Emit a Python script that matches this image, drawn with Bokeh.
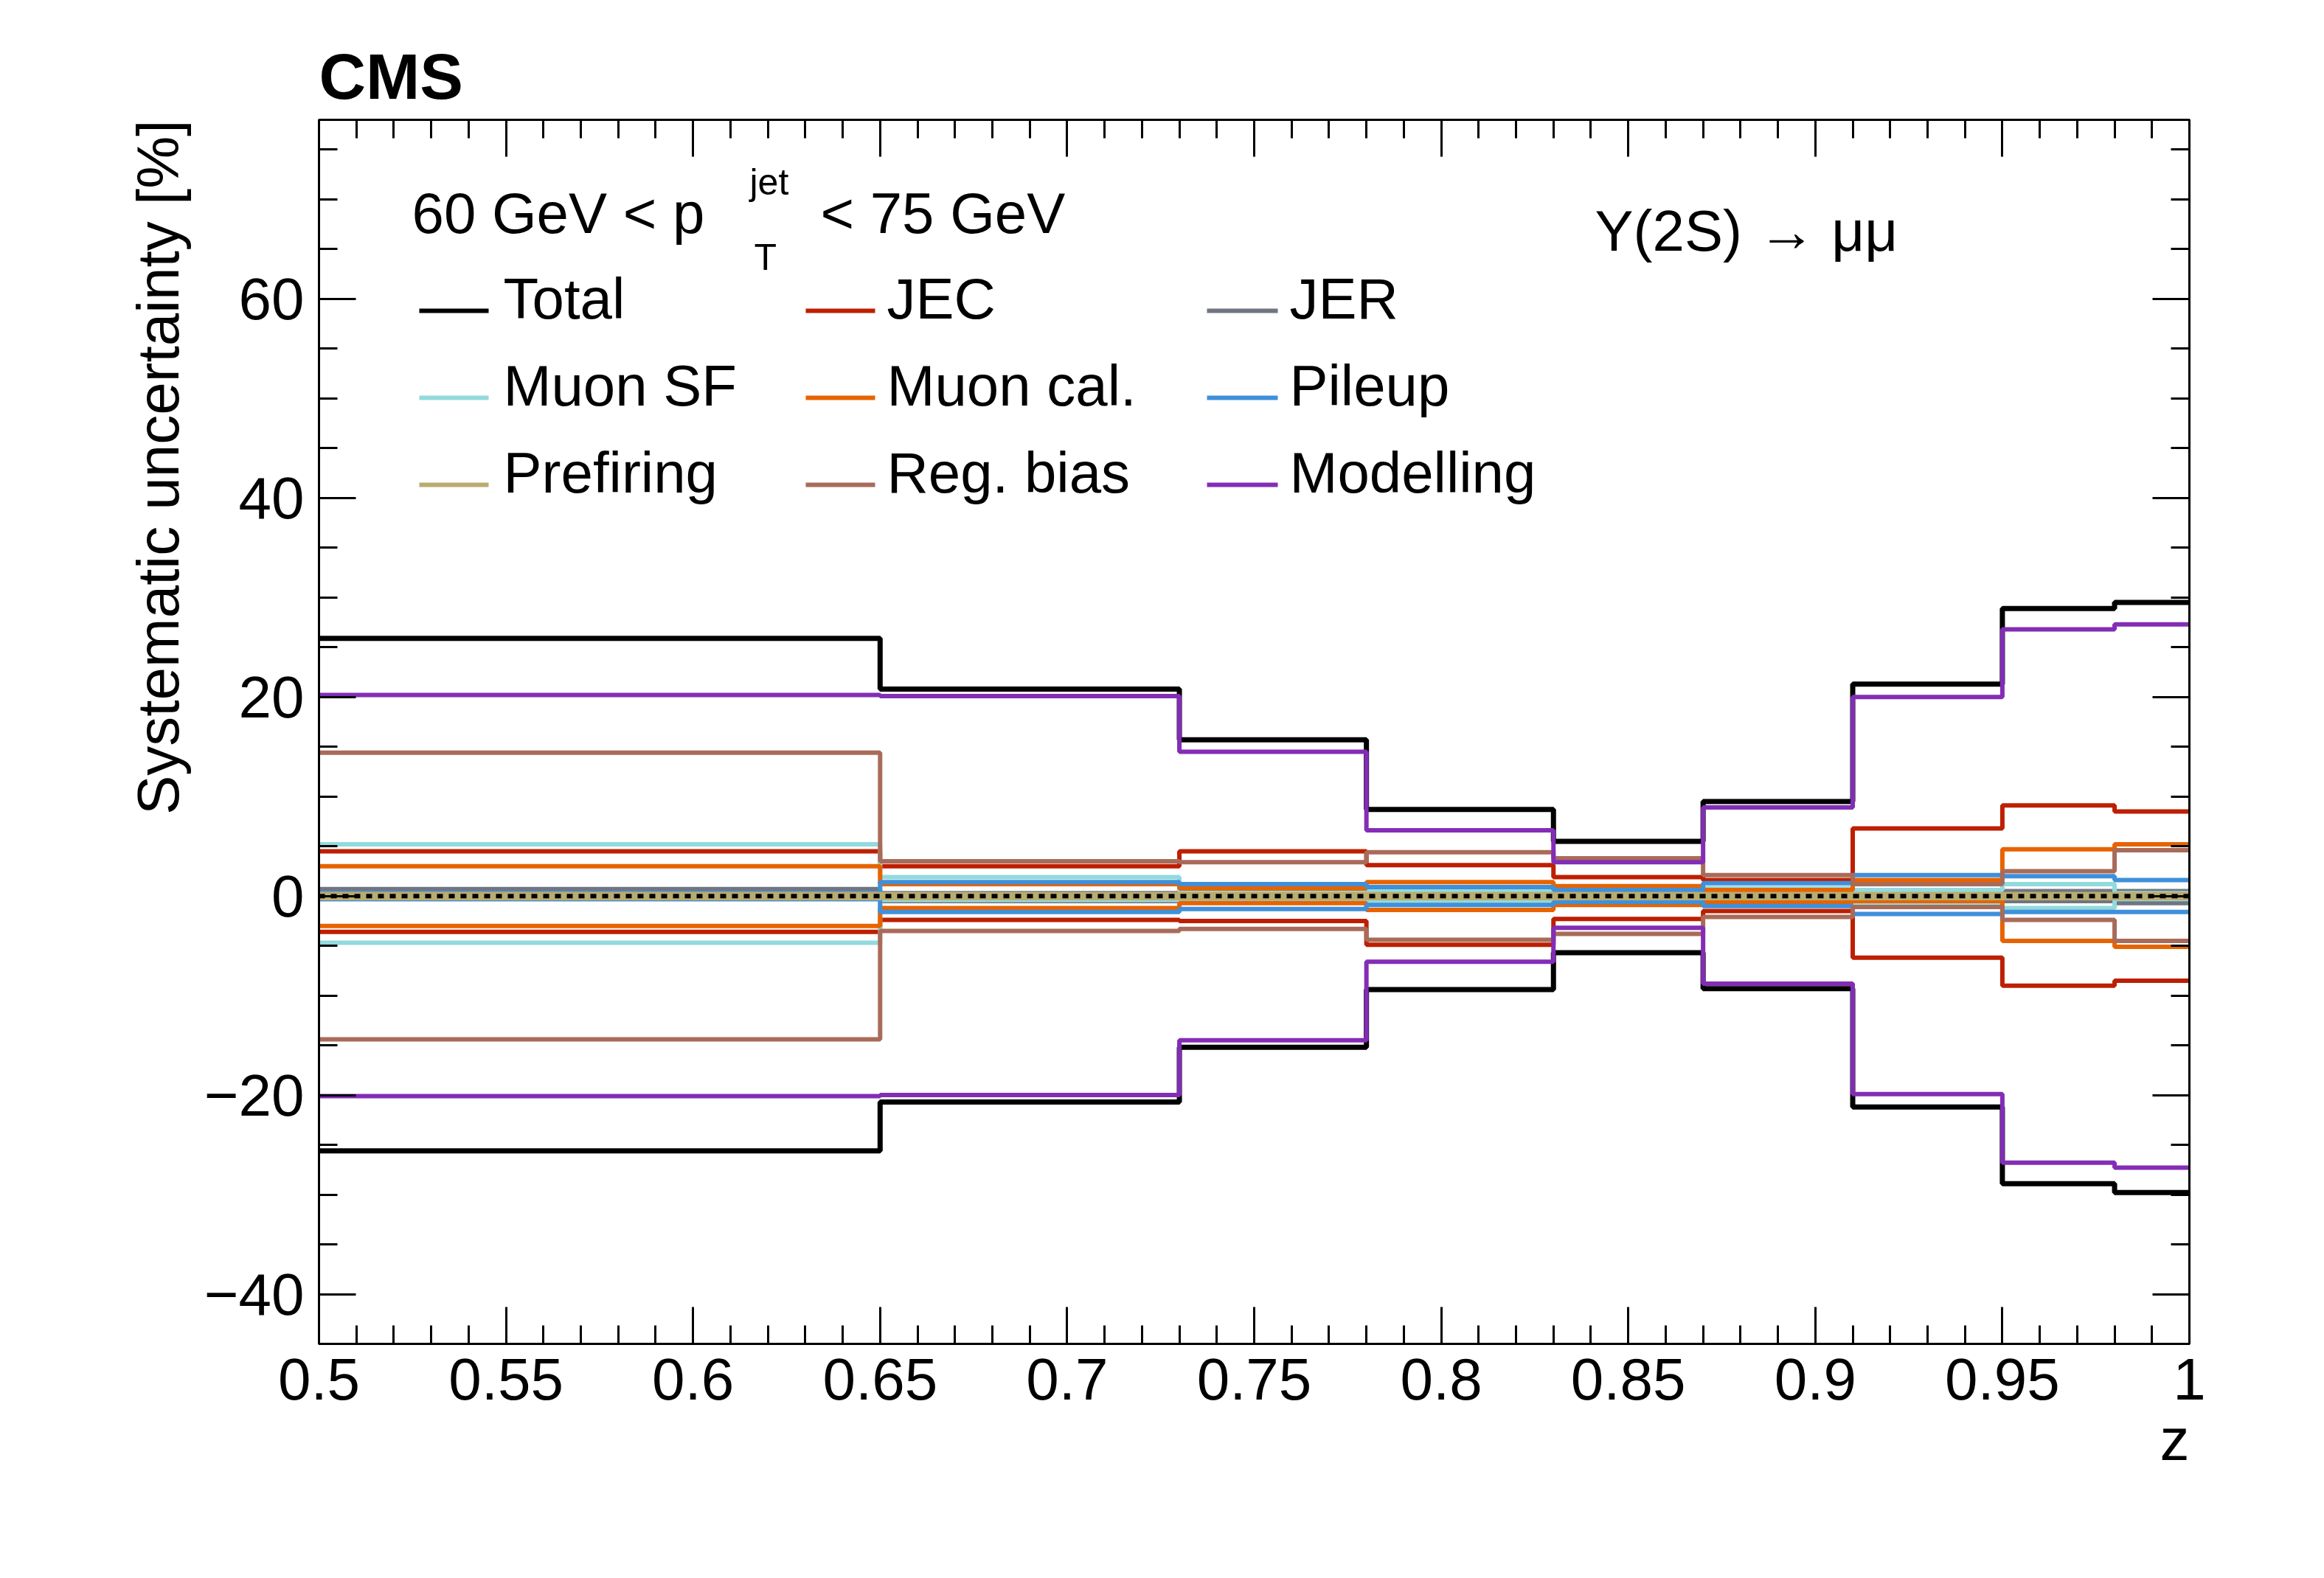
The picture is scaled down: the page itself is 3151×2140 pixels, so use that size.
import numpy as np
from bokeh.plotting import figure
from bokeh.models import Label, BoxAnnotation, LinearAxis, Span, FixedTicker, Title
from bokeh.embed import file_html
from bokeh.resources import INLINE

edges = [0.5, 0.65, 0.73, 0.78, 0.83, 0.87, 0.91, 0.95, 0.98, 1.0]
total_up = [25.9, 20.8, 15.7, 8.7, 5.5, 9.5, 21.3, 28.9, 29.5]
total_dn = [-25.6, -20.7, -15.2, -9.4, -5.7, -9.3, -21.2, -28.9, -29.8]
model_up = [20.2, 20.1, 14.5, 6.6, 3.4, 8.9, 20.0, 26.8, 27.3]
model_dn = [-20.1, -20.0, -14.5, -6.6, -3.2, -8.8, -19.9, -26.8, -27.3]
regb_up = [14.4, 3.5, 3.4, 4.4, 3.8, 2.1, 1.2, 2.5, 4.6]
regb_dn = [-14.4, -3.5, -3.3, -4.4, -3.8, -2.1, -1.1, -2.4, -4.5]
jec_up = [4.5, 3.0, 4.5, 3.1, 1.9, 1.6, 6.8, 9.1, 8.5]
jec_dn = [-3.6, -2.4, -2.5, -4.9, -2.3, -1.5, -6.2, -9.0, -8.5]
muonsf_up = [5.2, 1.9, 0.5, 0.5, 0.4, 0.8, 0.6, 1.2, 0.3]
muonsf_dn = [-4.7, -0.4, -0.5, -0.5, -0.4, -0.6, -0.7, -1.2, -0.3]
muoncal_up = [3.0, 1.2, 0.75, 1.4, 1.0, 0.6, 1.6, 4.7, 5.2]
muoncal_dn = [-3.0, -1.2, -0.7, -1.4, -0.9, -0.6, -0.5, -4.5, -5.1]
jer_up = [0.7, 0.3, 0.3, 0.3, 0.3, 0.3, 0.3, 0.5, 0.5]
jer_dn = [-0.3, -0.5, -0.3, -0.3, -0.3, -0.3, -0.3, -0.5, -0.7]
pileup_up = [0.3, 1.4, 1.2, 0.9, 0.6, 1.3, 2.1, 2.0, 1.6]
pileup_dn = [-0.3, -1.6, -1.3, -0.9, -0.6, -1.0, -1.8, -1.6, -1.6]
pref_up = [0.2, 0.2, 0.2, 0.2, 0.2, 0.2, 0.2, 0.2, 0.2]
pref_dn = [-0.2, -0.2, -0.2, -0.2, -0.2, -0.2, -0.2, -0.2, -0.2]

W, H = 3135, 2124
p = figure(width=W, height=H, x_range=(0.5, 1.0), y_range=(-45, 78),
           output_backend="svg", toolbar_location=None,
           min_border_left=432, min_border_top=162, min_border_right=167, min_border_bottom=302)
p.grid.visible = False
p.outline_line_color = "black"
p.outline_line_width = 3
p.background_fill_color = "white"

FONT = "Liberation Sans"
for ax in [p.xaxis[0], p.yaxis[0]]:
    ax.major_label_text_font = FONT
    ax.major_label_text_font_size = "80px"
    ax.major_label_text_color = "black"
    ax.major_tick_in = 50
    ax.major_tick_out = 0
    ax.minor_tick_in = 25
    ax.minor_tick_out = 0
    ax.major_tick_line_width = 3
    ax.minor_tick_line_width = 3
    ax.axis_line_width = 3
p.xaxis.ticker = FixedTicker(ticks=[0.5, 0.55, 0.6, 0.65, 0.7, 0.75, 0.8, 0.85, 0.9, 0.95, 1.0],
                             minor_ticks=list(np.round(np.arange(0.5, 1.0001, 0.01), 3)))
p.yaxis.ticker = FixedTicker(ticks=[-40, -20, 0, 20, 40, 60],
                             minor_ticks=list(range(-45, 80, 5)))
p.xaxis.major_label_overrides = {0.5: "0.5", 0.55: "0.55", 0.6: "0.6", 0.65: "0.65", 0.7: "0.7",
                                 0.75: "0.75", 0.8: "0.8", 0.85: "0.85", 0.9: "0.9", 0.95: "0.95", 1.0: "1"}
p.yaxis.major_label_overrides = {-40: "\u221240", -20: "\u221220", 0: "0", 20: "20", 40: "40", 60: "60"}
p.xaxis.major_label_standoff = 20
p.yaxis.major_label_standoff = 20

for loc in ["right", "above"]:
    ax = LinearAxis(major_label_text_font_size="0px", major_tick_in=50, major_tick_out=0,
                    minor_tick_in=25, minor_tick_out=0, major_tick_line_width=3,
                    minor_tick_line_width=3, axis_line_width=3)
    ax.ticker = p.yaxis.ticker if loc == "right" else p.xaxis.ticker
    p.add_layout(ax, loc)

p.add_layout(Title(text="CMS", align="left", text_font=FONT, text_font_size="88px",
                   text_font_style="bold", text_color="black", standoff=20), "above")
p.add_layout(Title(text="z", align="right", text_font=FONT, text_font_size="80px",
                   text_font_style="normal", text_color="black", standoff=10), "below")
p.add_layout(Title(text="Systematic uncertainty [%]", align="right", text_font=FONT,
                   text_font_size="80px", text_font_style="normal", text_color="black",
                   standoff=30), "left")

series = [
    ("Total", "#000000", total_up, total_dn),
    ("JEC", "#bd1f01", jec_up, jec_dn),
    ("JER", "#717581", jer_up, jer_dn),
    ("Muon SF", "#92dadd", muonsf_up, muonsf_dn),
    ("Muon cal.", "#e76300", muoncal_up, muoncal_dn),
    ("Pileup", "#3f90da", pileup_up, pileup_dn),
    ("Prefiring", "#b9ac70", pref_up, pref_dn),
    ("Reg. bias", "#a96b59", regb_up, regb_dn),
    ("Modelling", "#832db6", model_up, model_dn),
]
for name, col, up, dn in series:
    for v in (up, dn):
        p.step(edges, list(v) + [v[-1]], mode="after", line_color=col,
               line_width=7 if name == "Total" else 6)
p.add_layout(Span(location=0, dimension="width", line_color="black", line_width=6, line_dash="8 8"))

# screen units are relative to the frame's bottom-left corner (frame: page x 440..2976, y 170..1830)
def sx(px):
    return px - 440
def sy(py):
    return 1830 - py

def lab(text, px, py, size, **kw):
    p.add_layout(Label(x=sx(px), y=sy(py), x_units="screen", y_units="screen", text=text,
                       text_font=FONT, text_font_size=f"{size}px", text_color="black", **kw))

lab("60 GeV < p", 566, 340, 78)
lab("jet", 1024, 282, 50)
lab("T", 1030, 384, 50)
lab("< 75 GeV", 1120, 340, 78)
lab("\u03a5(2S) \u2192 \u03bc\u03bc", 2170, 364, 78)

order = [[series[0], series[3], series[6]], [series[1], series[4], series[7]], [series[2], series[5], series[8]]]
colx = [(576, 670, 690), (1100, 1194, 1210), (1644, 1740, 1756)]
rows = [456, 574, 692]
for (x0, x1, xt), items in zip(colx, order):
    for py, (name, col, _, _) in zip(rows, items):
        p.add_layout(BoxAnnotation(left=sx(x0), right=sx(x1), top=sy(py - 30), bottom=sy(py - 24),
                                   left_units="screen", right_units="screen", top_units="screen",
                                   bottom_units="screen", fill_color=col, fill_alpha=1, line_alpha=0))
        lab(name, xt, py, 78)

open("out.html", "w").write(file_html(p, INLINE))
